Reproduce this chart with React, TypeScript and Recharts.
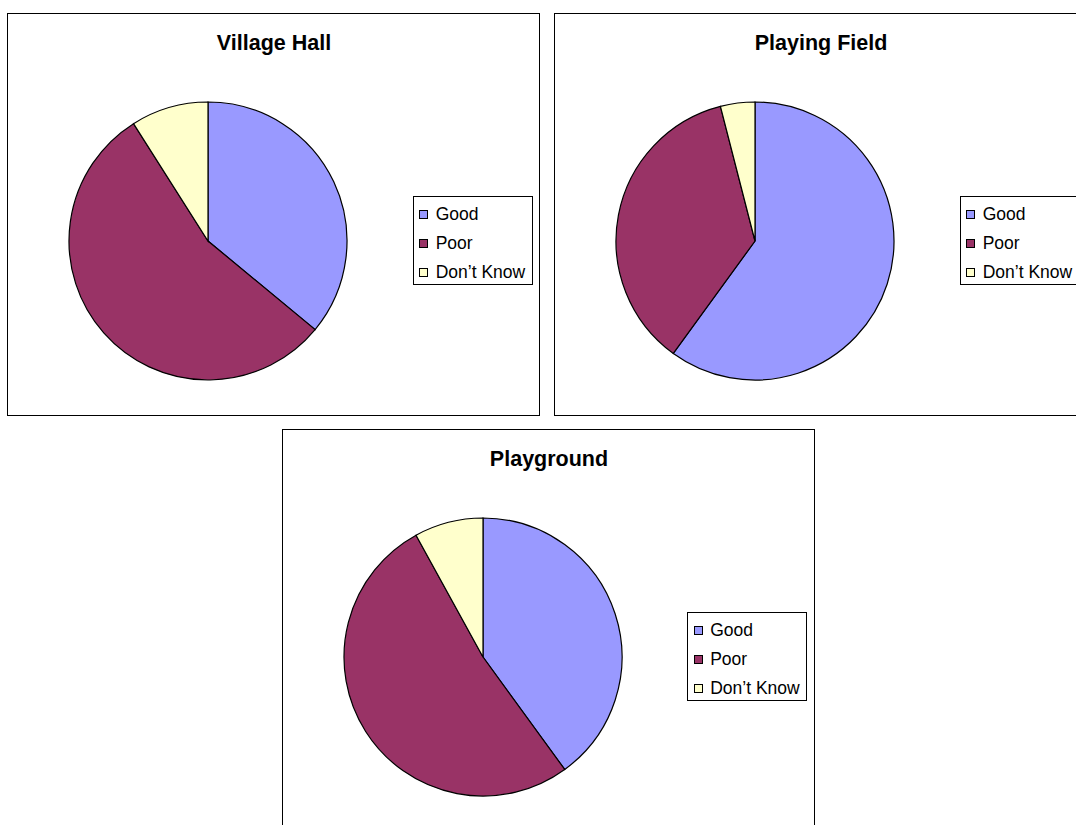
import { PieChart, Pie, Cell, Legend } from "recharts";

const categories = ["Good", "Poor", "Don\u2019t Know"];
const colors = ["#9999FF", "#993366", "#FFFFCC"];

const villageHall = [36, 55, 9];
const playingField = [60, 36, 4];
const playground = [40, 52, 8];

const FONT = "Arial, 'Liberation Sans', Helvetica, sans-serif";

function toRows(values: number[]) {
  return categories.map((name, i) => ({ name, value: values[i] }));
}

/* ── Boxed legend like the old Excel one ─────────────────────────────── */
function BoxLegend() {
  return (
    <div
      style={{
        width: 120,
        height: 89,
        boxSizing: "border-box",
        border: "1px solid #000",
        background: "#fff",
        paddingTop: 2.5,
        fontFamily: FONT,
        fontSize: 17.5,
        color: "#000",
      }}
    >
      {categories.map((c, i) => (
        <div key={c} style={{ display: "flex", alignItems: "center", height: 29.3, whiteSpace: "nowrap" }}>
          <span
            style={{
              display: "inline-block",
              width: 9,
              height: 9,
              marginLeft: 5.7,
              boxSizing: "border-box",
              border: "1px solid #000",
              background: colors[i],
            }}
          />
          <span style={{ marginLeft: 7.5 }}>{c}</span>
        </div>
      ))}
    </div>
  );
}

/* ── One boxed pie panel ─────────────────────────────────────────────── */
function PiePanel({ title, values, left, top }: { title: string; values: number[]; left: number; top: number }) {
  return (
    <div
      style={{
        position: "absolute",
        left,
        top,
        width: 533,
        height: 403,
        boxSizing: "border-box",
        border: "1.5px solid #000",
        background: "#fff",
      }}
    >
      <PieChart width={530} height={400} margin={{ top: 0, right: 0, bottom: 0, left: 0 }}>
        <text
          x={266}
          y={36}
          textAnchor="middle"
          style={{ fontFamily: FONT, fontSize: 21.5, fontWeight: 700, fill: "#000" }}
        >
          {title}
        </text>
        <Pie
          data={toRows(values)}
          dataKey="value"
          nameKey="name"
          cx={200}
          cy={227}
          outerRadius={139}
          startAngle={90}
          endAngle={-270}
          stroke="#000"
          strokeWidth={1.2}
          isAnimationActive={false}
        >
          {values.map((_, i) => (
            <Cell key={i} fill={colors[i]} />
          ))}
        </Pie>
        <Legend
          content={<BoxLegend />}
          wrapperStyle={{ position: "absolute", left: 404.5, top: 182.5, width: 120, height: 89 }}
        />
      </PieChart>
    </div>
  );
}

export default function App() {
  return (
    <div
      style={{
        position: "absolute",
        left: 0,
        top: 0,
        width: 1076,
        height: 825,
        overflow: "hidden",
        background: "#fff",
      }}
    >
      <PiePanel title="Village Hall" values={villageHall} left={7} top={12.5} />
      <PiePanel title="Playing Field" values={playingField} left={554} top={12.5} />
      <PiePanel title="Playground" values={playground} left={281.5} top={428.5} />
    </div>
  );
}
